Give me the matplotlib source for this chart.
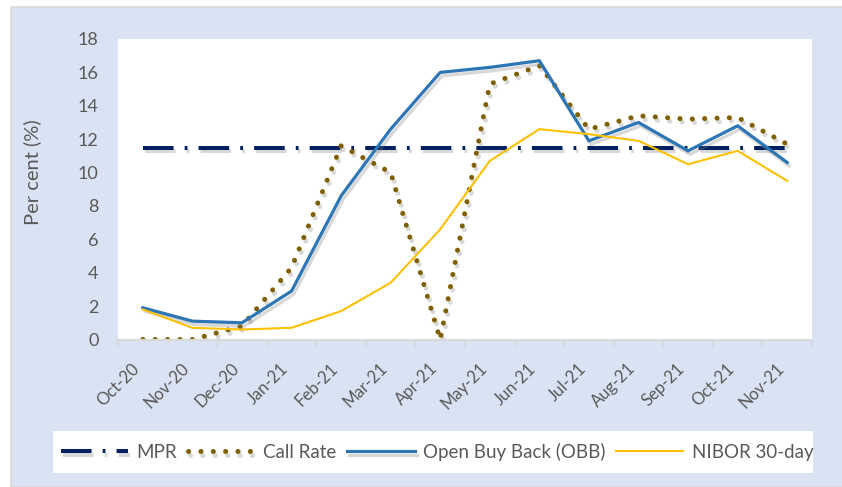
import matplotlib
matplotlib.use('agg')
import matplotlib.pyplot as plt
import matplotlib.patheffects as pe
from matplotlib.patches import Rectangle

months = ['Oct-20', 'Nov-20', 'Dec-20', 'Jan-21', 'Feb-21', 'Mar-21', 'Apr-21',
          'May-21', 'Jun-21', 'Jul-21', 'Aug-21', 'Sep-21', 'Oct-21', 'Nov-21']
mpr = [11.5] * 14
call_rate = [0.0, 0.0, 0.8, 4.3, 11.6, 10.0, 0.0, 15.3, 16.4, 12.6, 13.4, 13.2, 13.3, 11.7]
obb = [1.9, 1.1, 1.0, 2.9, 8.6, 12.6, 16.0, 16.3, 16.7, 11.9, 13.0, 11.3, 12.8, 10.6]
nibor = [1.8, 0.7, 0.6, 0.7, 1.7, 3.4, 6.6, 10.7, 12.6, 12.3, 11.9, 10.5, 11.3, 9.5]

text_color = '#595959'
plt.rcParams['font.family'] = ['Lato', 'DejaVu Sans']
plt.rcParams['lines.scale_dashes'] = False

W, H = 842, 487
fig = plt.figure(figsize=(W / 100.0, H / 100.0), dpi=100)
fig.patch.set_facecolor('white')

# light blue panel behind everything
fig.patches.append(Rectangle((11.0 / W, 0), 1.2, (H - 7.0) / H, transform=fig.transFigure,
                             facecolor='#DAE3F3', edgecolor='#D9D9D9', lw=1.2, zorder=-2))
# white legend box
fig.patches.append(Rectangle((53.0 / W, 14.0 / H), 760.0 / W, 42.0 / H, transform=fig.transFigure,
                             facecolor='white', edgecolor='none', zorder=-1))

ax = fig.add_axes([118.0 / W, 147.5 / H, 694.0 / W, 300.5 / H])
ax.set_zorder(1)
ax.set_facecolor('white')

shadow = [pe.SimpleLineShadow(offset=(1.5, -2.5), shadow_color='#7f7f7f', alpha=0.3), pe.Normal()]
x = list(range(len(months)))

ax.plot(x, mpr, color='#002060', lw=2.9, dashes=(22, 8, 2, 8), label='MPR', path_effects=shadow)
ax.plot(x, call_rate, color='#7F6000', lw=3.6, dashes=(0.1, 8.8), dash_capstyle='round',
        label='Call Rate', path_effects=shadow)
ax.plot(x, obb, color='#2E75B6', lw=2.3, label='Open Buy Back (OBB)', path_effects=shadow)
ax.plot(x, nibor, color='#FFC000', lw=1.5, label='NIBOR 30-day')

ax.set_xlim(-0.5, len(months) - 0.5)
ax.set_ylim(0, 18)
ax.set_yticks(range(0, 19, 2))
ax.set_xticks(x)
ax.set_xticklabels(months, rotation=45, ha='right', fontsize=12, color=text_color)
ax.set_xticks([i - 0.5 for i in range(len(months) + 1)], minor=True)
ax.tick_params(axis='x', which='major', length=0, pad=15)
ax.tick_params(axis='x', which='minor', length=5, color='#D9D9D9', width=1.2)
ax.tick_params(axis='y', length=0, pad=14, labelsize=13, labelcolor=text_color)

for side in ['left', 'right', 'top']:
    ax.spines[side].set_visible(False)
ax.spines['bottom'].set_color('#D9D9D9')
ax.spines['bottom'].set_linewidth(1.5)

fig.text(32.0 / W, 1 - 172.0 / H, 'Per cent (%)', rotation=90, ha='center', va='center',
         fontsize=14.5, color=text_color)

leg = fig.legend(loc='center', bbox_to_anchor=(437.0 / W, 35.0 / H), ncol=4, frameon=False,
                 fontsize=13.5, handlelength=3.6, handletextpad=0.45, columnspacing=0.55)
for t in leg.get_texts():
    t.set_color(text_color)

plt.savefig('out.png', dpi=100, facecolor=fig.get_facecolor())
